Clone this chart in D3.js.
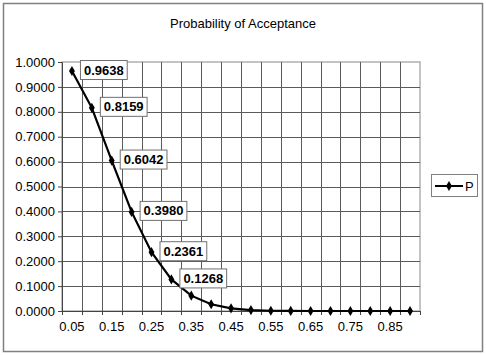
<!DOCTYPE html>
<html>
<head>
<meta charset="utf-8">
<script src="https://cdn.jsdelivr.net/npm/d3@7"></script>
<style>
body { margin: 0; background: #fff; }
text { font-family: Arial, "Liberation Sans", sans-serif; }
</style>
</head>
<body>
<svg id="chart" width="486" height="355"></svg>
<script>
const title = "Probability of Acceptance";
const categories = ["0.05","0.10","0.15","0.20","0.25","0.30","0.35","0.40","0.45","0.50","0.55","0.60","0.65","0.70","0.75","0.80","0.85","0.90"];
const values = [0.9638,0.8159,0.6042,0.3980,0.2361,0.1268,0.0617,0.0271,0.0107,0.0037,0.0011,0.0003,0.0001,0.0000,0.0000,0.0000,0.0000,0.0000];
const labelledCount = 6;
const yTicks = [0,0.1,0.2,0.3,0.4,0.5,0.6,0.7,0.8,0.9,1.0];
const seriesName = "P";

const svg = d3.select("#chart");
svg.append("rect").attr("x",3.5).attr("y",3.5).attr("width",479).attr("height",348)
  .attr("fill","#fff").attr("stroke","#808080").attr("stroke-width",1.5);

const L = 62, R = 420, T = 62, B = 311;
const x = d3.scaleBand().domain(categories).range([L, R]).padding(0);
const y = d3.scaleLinear().domain([0, 1]).range([B, T]);

svg.append("text").attr("x", 243).attr("y", 28).attr("text-anchor","middle")
  .attr("font-size", 13).attr("fill","#000").text(title);

// plot border
svg.append("rect").attr("x",L).attr("y",T).attr("width",R-L).attr("height",B-T)
  .attr("fill","none").attr("stroke","#b0b0b0").attr("stroke-width",1.5);

// horizontal gridlines
svg.append("g").selectAll("line").data(yTicks.filter(d => d > 0 && d < 1)).join("line")
  .attr("x1", L).attr("x2", R).attr("y1", d => Math.round(y(d)) + 0.5).attr("y2", d => Math.round(y(d)) + 0.5)
  .attr("stroke","#5a5a5a").attr("stroke-width",1);
// vertical gridlines at category boundaries
const bounds = categories.map(c => x(c)).slice(1);
svg.append("g").selectAll("line").data(bounds).join("line")
  .attr("x1", d => Math.round(d) + 0.5).attr("x2", d => Math.round(d) + 0.5).attr("y1", T).attr("y2", B)
  .attr("stroke","#5a5a5a").attr("stroke-width",1);

// y axis
const yAxis = d3.axisLeft(y).tickValues(yTicks).tickFormat(d3.format(".4f")).tickSize(4).tickPadding(3);
const gy = svg.append("g").attr("transform", `translate(${L},0)`).call(yAxis);
gy.select(".domain").attr("stroke","#444");
gy.selectAll(".tick line").attr("stroke","#444");
gy.selectAll("text").attr("font-size",13).attr("fill","#000").attr("font-family","Arial, 'Liberation Sans', sans-serif");

// x axis
const xAxis = d3.axisBottom(x).tickSize(0).tickPadding(11)
  .tickFormat((d, i) => i % 2 === 0 ? d : "");
const gx = svg.append("g").attr("transform", `translate(0,${B})`).call(xAxis);
gx.select(".domain").attr("stroke","#444");
gx.selectAll("text").attr("font-size",13).attr("fill","#000").attr("font-family","Arial, 'Liberation Sans', sans-serif");
gx.append("g").selectAll("line").data(categories.map(c => x(c)).concat([R])).join("line")
  .attr("x1", d => Math.round(d) + 0.5).attr("x2", d => Math.round(d) + 0.5).attr("y1", 0).attr("y2", 4)
  .attr("stroke","#444");

// series line
const cx = c => x(c) + x.bandwidth() / 2;
const pts = categories.map((c, i) => [cx(c), y(values[i])]);
svg.append("path").attr("d", d3.line()(pts)).attr("fill","none").attr("stroke","#000").attr("stroke-width",2.2);
const diamond = d3.symbol().type(d3.symbolDiamond).size(30);
svg.append("g").selectAll("path").data(pts).join("path")
  .attr("transform", d => `translate(${d[0]},${d[1]})`).attr("d", diamond).attr("fill","#000");

// data labels
const lbl = svg.append("g");
pts.slice(0, labelledCount).forEach((p, i) => {
  const g = lbl.append("g").attr("transform", `translate(${p[0] + 8},${p[1] - 1})`);
  const t = g.append("text").attr("x", 4).attr("y", 4.5).attr("font-size", 13).attr("font-weight","bold")
    .attr("fill","#000").text(values[i].toFixed(4));
  const w = t.node().getComputedTextLength();
  g.insert("rect","text").attr("x",0.5).attr("y",-9.5).attr("width", w + 7).attr("height", 19)
    .attr("fill","#fff").attr("stroke","#707070").attr("stroke-width",1);
});

// legend
const lg = svg.append("g");
lg.append("rect").attr("x",431.5).attr("y",174.5).attr("width",46).attr("height",22)
  .attr("fill","#fff").attr("stroke","#808080");
lg.append("line").attr("x1",435).attr("x2",463).attr("y1",186).attr("y2",186).attr("stroke","#000").attr("stroke-width",2);
lg.append("path").attr("transform","translate(449,186)").attr("d",diamond).attr("fill","#000");
lg.append("text").attr("x",465).attr("y",190.5).attr("font-size",13).attr("fill","#000").text(seriesName);
</script>
</body>
</html>
